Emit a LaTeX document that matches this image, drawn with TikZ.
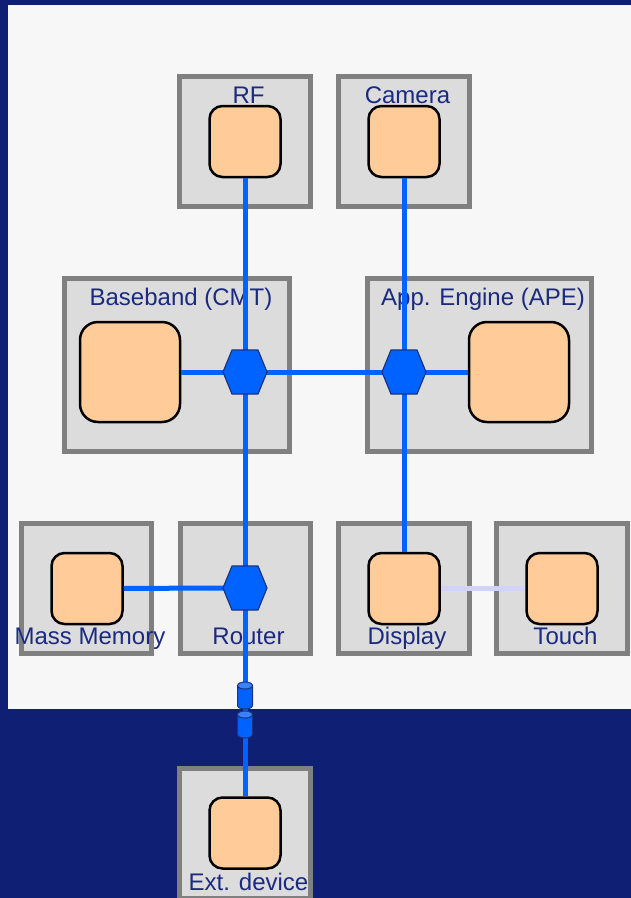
\documentclass[tikz,border=0pt]{standalone}
\usepackage{fontspec}
\setmainfont{Liberation Sans}
\definecolor{navy}{HTML}{0F1F73}
\definecolor{panel}{HTML}{F7F7F7}
\definecolor{boxgray}{HTML}{808080}
\definecolor{boxfill}{HTML}{DCDCDC}
\definecolor{peach}{HTML}{FFCC99}
\definecolor{busblue}{HTML}{0062FF}
\definecolor{hubedge}{HTML}{1A3480}
\definecolor{plugtop}{HTML}{3A82FF}
\definecolor{lavender}{HTML}{D2D2FA}
\definecolor{labelblue}{HTML}{1B2A80}
\newcommand\drawhub[1]{%
  \path[hexhub] (#1) ++(-22,0) -- ++(9,-22) -- ++(26,0) -- ++(9,22)
    -- ++(-9,22) -- ++(-26,0) -- cycle;}
\begin{document}
\begin{tikzpicture}[x=1pt,y=-1pt,
  unit/.style={draw=boxgray,line width=5pt,fill=boxfill,inner sep=0pt,outer sep=0pt},
  core/.style={draw=black,line width=2.5pt,fill=peach,rounded corners=13pt,
    minimum size=71pt,inner sep=0pt},
  bigcore/.style={core,rounded corners=18pt,minimum size=100pt},
  lbl/.style={text=labelblue,font=\fontsize{24}{28}\selectfont,anchor=base,inner sep=0pt},
  bus/.style={draw=busblue,line width=5pt},
  aux/.style={draw=lavender,line width=5pt},
  hexhub/.style={fill=busblue,draw=hubedge,line width=1.2pt},
  plug/.pic={
    \fill[busblue] (-7.5,-10) rectangle (7.5,10);
    \fill[busblue] (0,10) ellipse (7.5 and 3.5);
    \draw[hubedge,line width=1pt] (-7.5,-10) -- (-7.5,10) arc (180:0:7.5 and 3.5) -- (7.5,-10);
    \filldraw[fill=plugtop,draw=hubedge,line width=1pt] (0,-10) ellipse (7.5 and 3.5);
  }]
  % background and system panel
  \fill[navy] (0,0) rectangle (631,898);
  \fill[panel] (8,5) rectangle (631,709);
  \useasboundingbox (0,0) rectangle (631,898);

  % subsystem frames
  \node[unit,minimum width=131pt,minimum height=130pt] (rf)  at (245,141.5) {};
  \node[unit,minimum width=131pt,minimum height=130pt] (cam) at (404,141.5) {};
  \node[unit,minimum width=225pt,minimum height=173pt] (bb)  at (177,365) {};
  \node[unit,minimum width=224pt,minimum height=173pt] (ape) at (479.5,365) {};
  \node[unit,minimum width=130pt,minimum height=130pt] (mm)  at (86.5,588.5) {};
  \node[unit,minimum width=130pt,minimum height=130pt] (rt)  at (245.5,588.5) {};
  \node[unit,minimum width=131pt,minimum height=130pt] (dsp) at (404,588.5) {};
  \node[unit,minimum width=131pt,minimum height=130pt] (tch) at (562,588.5) {};
  \node[unit,minimum width=131pt,minimum height=130pt] (ext) at (245,833.5) {};

  % frame titles
  \node[lbl] (rflbl)  at (248.5,103) {RF};
  \node[lbl] (camlbl) at (407.5,103) {Camera};
  \node[lbl] (bblbl)  at (181,305) {Baseband (CMT)};
  \node[lbl] (apelbl) at (483,305) {App. Engine (APE)};
  \node[lbl] (mmlbl)  at (90,644) {Mass Memory};
  \node[lbl] (rtlbl)  at (248.5,644) {Router};
  \node[lbl] (dsplbl) at (407,644) {Display};
  \node[lbl] (tchlbl) at (565.5,644) {Touch};
  \node[lbl] (extlbl) at (248.5,890) {Ext. device};

  % processing cores
  \node[core]    (rfin)  at (245,141.5) {};
  \node[core]    (camin) at (404,141.5) {};
  \node[bigcore] (bbin)  at (130,372) {};
  \node[bigcore] (apein) at (519,372) {};
  \node[core]    (mmin)  at (87,588.5) {};
  \node[core]    (dspin) at (404,588.5) {};
  \node[core]    (tchin) at (562,588.5) {};
  \node[core]    (extin) at (245,833) {};

  % interconnect hubs
  \coordinate (bbhub)  at (245,372);
  \coordinate (apehub) at (404,372);
  \coordinate (rthub)  at (245,588);

  % buses
  \draw[bus] (rfin) -- (bbhub) -- (rthub) -- (extin);
  \draw[bus] (camin) -- (apehub) -- (dspin);
  \draw[bus] (bbin) -- (bbhub) -- (apehub) -- (apein);
  \draw[bus] (mmin) -- (rthub);
  \draw[aux] (dspin) -- (tchin);

  \drawhub{bbhub}
  \drawhub{apehub}
  \drawhub{rthub}

  % external connector
  \pic at (245,695.5) {plug};
  \pic at (245,724.5) {plug};
\end{tikzpicture}
\end{document}
